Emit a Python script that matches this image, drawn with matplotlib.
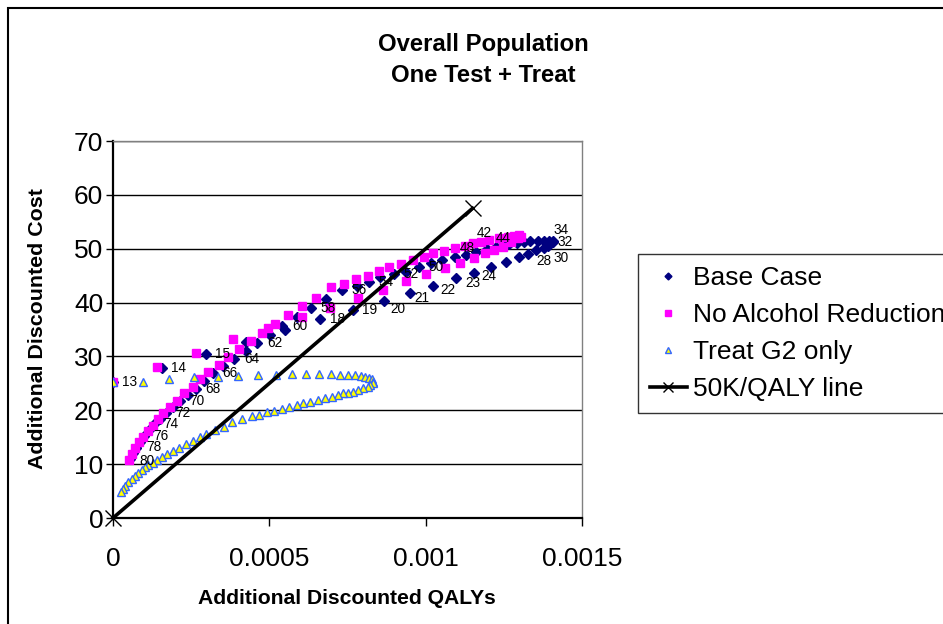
import matplotlib
matplotlib.use('Agg')
import matplotlib.pyplot as plt
from matplotlib.patches import Rectangle
from matplotlib.ticker import FuncFormatter

plt.rcParams['font.family'] = ['Liberation Sans', 'DejaVu Sans']

# QALY values below are in units of 1e-4
QALY_UNIT = 1e-4

# Base Case, one point per age 13..80
base_ages = list(range(13, 81))
base_qaly = [0.00, 1.56, 2.97, 4.24, 5.50, 6.63, 7.66, 8.66, 9.51, 10.23, 10.96,
             11.55, 12.10, 12.56, 12.97, 13.26, 13.54, 13.77, 13.90, 13.99, 14.06,
             14.07, 13.93, 13.77, 13.58, 13.35, 13.13, 12.91, 12.68, 12.46, 12.26,
             11.96, 11.62, 11.30, 10.93, 10.53, 10.18, 9.78, 9.38, 8.98, 8.55,
             8.19, 7.79, 7.33, 6.81, 6.32, 5.87, 5.42, 5.02, 4.62, 4.24, 3.88,
             3.52, 3.20, 2.91, 2.65, 2.40, 2.14, 1.92, 1.69, 1.50, 1.31, 1.15,
             0.99, 0.86, 0.75, 0.64, 0.54]
base_cost = [25.25, 27.79, 30.36, 32.73, 34.91, 36.89, 38.62, 40.35, 41.87, 43.13,
             44.50, 45.58, 46.55, 47.47, 48.37, 49.02, 49.67, 50.13, 50.59, 50.97,
             51.24, 51.43, 51.52, 51.52, 51.43, 51.34, 51.24, 51.06, 50.87, 50.63,
             50.37, 49.94, 49.44, 48.83, 48.40, 47.90, 47.29, 46.66, 45.73, 45.25,
             44.69, 43.76, 43.13, 42.28, 40.66, 38.93, 37.26, 35.65, 33.98, 32.55,
             31.06, 29.52, 28.22, 26.87, 25.44, 23.95, 22.84, 21.78, 20.61, 19.50,
             18.38, 17.45, 16.34, 15.22, 14.11, 13.05, 12.07, 10.95]

# ages that carry a data label in the original
labelled_ages = [13, 14, 15, 18, 19, 20, 21, 22, 23, 24, 28, 30, 32, 34, 42, 44, 48,
                 50, 52, 54, 56, 58, 60, 62, 64, 66, 68, 70, 72, 74, 76, 78, 80]

# No Alcohol Reduction
noalc_qaly = [0.00, 1.40, 2.65, 3.84, 4.96, 6.03, 6.93, 7.84, 8.62, 9.37, 10.00,
              10.61, 11.09, 11.53, 11.91, 12.20, 12.47, 12.74, 12.95, 13.04, 12.97,
              12.81, 12.62, 12.36, 12.04, 11.78, 11.51, 11.25, 10.93, 10.58, 10.23,
              9.94, 9.60, 9.22, 8.83, 8.51, 8.14, 7.76, 7.39, 6.96, 6.49, 6.04,
              5.60, 5.19, 4.78, 4.41, 4.04, 3.68, 3.40, 3.04, 2.78, 2.55, 2.28,
              2.04, 1.82, 1.61, 1.43, 1.27, 1.11, 0.97, 0.83, 0.70, 0.60, 0.52]
noalc_cost = [25.25, 28.09, 30.69, 33.18, 35.22, 37.37, 39.05, 40.85, 42.33, 43.95,
              45.30, 46.36, 47.40, 48.22, 49.15, 49.76, 50.37, 51.19, 51.93, 52.26,
              52.54, 52.45, 52.21, 51.93, 51.61, 51.19, 51.00, 50.56, 50.07, 49.63,
              49.15, 48.51, 47.90, 47.25, 46.55, 45.86, 44.99, 44.32, 43.45, 42.83,
              40.94, 39.36, 37.69, 35.93, 34.29, 32.92, 31.32, 29.95, 28.35, 27.05,
              25.75, 24.38, 23.15, 21.78, 20.55, 19.44, 18.32, 17.14, 16.15, 15.09,
              14.05, 12.94, 11.88, 10.77]

# Treat G2 only
g2_qaly = [0.00, 0.95, 1.80, 2.60, 3.35, 4.00, 4.64, 5.21, 5.73, 6.17, 6.59, 6.96,
           7.25, 7.52, 7.73, 7.92, 8.07, 8.19, 8.27, 8.30, 8.30, 8.23, 8.16, 8.00,
           7.84, 7.68, 7.52, 7.36, 7.20, 6.99, 6.77, 6.56, 6.29, 6.08, 5.90, 5.63,
           5.39, 5.14, 4.91, 4.67, 4.43, 4.14, 3.82, 3.55, 3.27, 2.99, 2.78, 2.55,
           2.33, 2.12, 1.93, 1.73, 1.56, 1.40, 1.27, 1.13, 1.02, 0.92, 0.81, 0.70,
           0.60, 0.49, 0.38, 0.31, 0.25]
g2_cost = [25.31, 25.31, 25.75, 26.12, 26.23, 26.36, 26.55, 26.55, 26.74, 26.74,
           26.74, 26.74, 26.55, 26.55, 26.55, 26.36, 26.23, 26.05, 25.75, 25.31,
           25.01, 24.69, 24.38, 24.08, 23.77, 23.45, 23.26, 23.15, 22.84, 22.52,
           22.22, 21.91, 21.59, 21.41, 21.07, 20.61, 20.24, 19.87, 19.59, 19.12,
           18.85, 18.44, 17.88, 16.84, 16.34, 15.54, 14.95, 14.30, 13.68, 13.05,
           12.44, 11.83, 11.27, 10.77, 10.27, 9.84, 9.41, 8.91, 8.41, 7.85, 7.24,
           6.63, 6.00, 5.38, 4.77]

# 50K per QALY threshold line
threshold_qaly = [0.0, 11.5]
threshold_cost = [0.0, 57.5]

# label nudges in pixels (right, down) where they differ from the default
label_nudge = {20: (14, 8.6), 21: (12, 5), 22: (15, 4), 23: (17, 5), 24: (15, 3.5),
               28: (16, 7), 30: (18, 10), 32: (15, -1), 34: (8, -11),
               42: (-18, -12), 44: (16, -11), 48: (25, -12),
               78: (17, -1), 80: (17, 1.5)}

W, H = 943, 624
fig = plt.figure(figsize=(W / 100, H / 100), dpi=100)
ax = fig.add_axes([113 / W, 1 - 518 / H, 469 / W, 377 / H])

to_q = lambda vals: [v * QALY_UNIT for v in vals]

ax.plot(to_q(base_qaly), base_cost, linestyle='none', marker='D', ms=5.0,
        color='#000080', label='Base Case', zorder=3)
ax.plot(to_q(noalc_qaly), noalc_cost, linestyle='none', marker='s', ms=6.2,
        color='#FF00FF', label='No Alcohol Reduction', zorder=4)
ax.plot(to_q(g2_qaly), g2_cost, linestyle='none', marker='^', ms=5.6,
        markerfacecolor='#FFFF00', markeredgecolor='#3366FF', mew=1.0,
        label='Treat G2 only', zorder=5)
ax.plot(to_q(threshold_qaly), threshold_cost, color='black', lw=2.6, marker='x',
        ms=11, mew=1.0, label='50K/QALY line', zorder=6, clip_on=False)

for age, q, c in zip(base_ages, base_qaly, base_cost):
    if age not in labelled_ages:
        continue
    dx, dy = label_nudge.get(age, (17, 0))
    ax.annotate(str(age), (q * QALY_UNIT, c), xytext=(dx * 0.72, -dy * 0.72),
                textcoords='offset points', ha='center', va='center',
                fontsize=9.8, zorder=10)

ax.set_xlim(0, 0.0015)
ax.set_ylim(0, 70)
ax.set_xticks([0, 0.0005, 0.001, 0.0015])
ax.set_yticks(range(0, 71, 10))
ax.xaxis.set_major_formatter(FuncFormatter(lambda v, p: '%g' % v))
ax.grid(axis='y', color='black', lw=1.0, zorder=0)
ax.set_axisbelow(True)
ax.tick_params(axis='x', direction='out', length=6, width=1, pad=15, labelsize=19)
ax.tick_params(axis='y', direction='out', length=5, width=1, pad=2, labelsize=19)
for side in ['left', 'bottom']:
    ax.spines[side].set_linewidth(1.6)
    ax.spines[side].set_color('black')
for side in ['right', 'top']:
    ax.spines[side].set_linewidth(1.0)
    ax.spines[side].set_color('#808080')

fig.text(483 / W, 1 - 60 / H, 'Overall Population\nOne Test + Treat', ha='center',
         va='center', fontsize=17.2, fontweight='bold', linespacing=1.4)
fig.text(347 / W, 1 - 598 / H, 'Additional Discounted QALYs', ha='center',
         va='center', fontsize=15.2, fontweight='bold')
fig.text(38 / W, 1 - 329 / H, 'Additional Discounted Cost', ha='center',
         va='center', rotation=90, fontsize=15.4, fontweight='bold')

leg = fig.legend(loc='upper left', bbox_to_anchor=(638 / W, 1 - 254 / H),
                 fontsize=19, frameon=True, fancybox=False, markerscale=0.7,
                 handlelength=1.4, handletextpad=0.25, labelspacing=0.5,
                 borderpad=0.45, borderaxespad=0)
leg.get_frame().set_edgecolor('black')
leg.get_frame().set_linewidth(1.0)

# outer chart border (runs off the right and bottom edges)
fig.add_artist(Rectangle((8 / W, -0.1), 1.2, 1.1 - 8 / H, transform=fig.transFigure,
                         fill=False, edgecolor='black', lw=1.5))

fig.savefig('out.png', dpi=100)
